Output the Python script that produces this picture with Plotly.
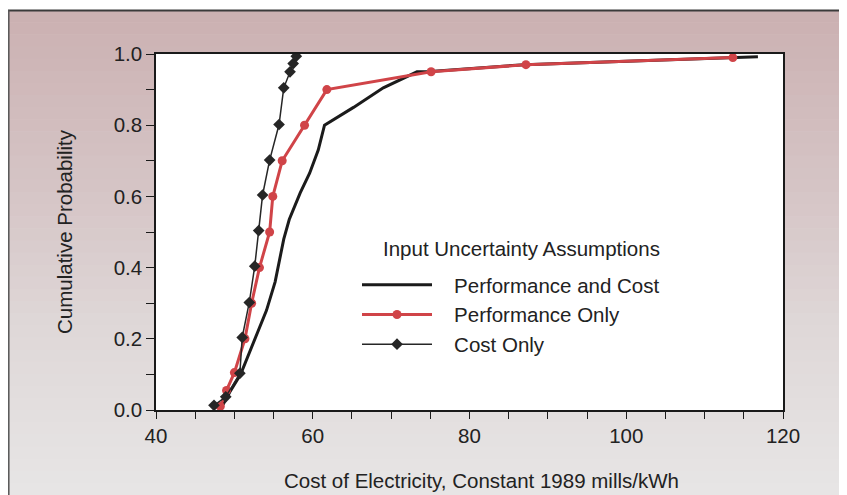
import plotly.graph_objects as go

# ---- data ----
perf_cost_x = [48.3, 49.4, 50.8, 52.4, 54.1, 55.2, 56.3, 57.0, 58.4, 59.6, 60.7, 61.5, 65.2, 69.0, 73.3, 75.0, 87.0, 116.8]
perf_cost_y = [0.005, 0.05, 0.10, 0.187, 0.28, 0.36, 0.48, 0.535, 0.61, 0.665, 0.73, 0.80, 0.85, 0.905, 0.95, 0.951, 0.97, 0.992]

perf_only_x = [48.2, 49.0, 50.0, 51.35, 52.2, 53.2, 54.5, 54.9, 56.1, 58.95, 61.8, 75.1, 87.2, 113.6]
perf_only_y = [0.01, 0.055, 0.105, 0.20, 0.30, 0.40, 0.50, 0.60, 0.70, 0.80, 0.90, 0.95, 0.97, 0.99]

cost_only_x = [47.4, 48.9, 50.7, 51.0, 51.9, 52.6, 53.1, 53.6, 54.5, 55.7, 56.3, 57.1, 57.5, 57.9]
cost_only_y = [0.013, 0.037, 0.103, 0.204, 0.302, 0.404, 0.504, 0.604, 0.702, 0.802, 0.905, 0.95, 0.973, 0.994]

series_names = ["Performance and Cost", "Performance Only", "Cost Only"]
legend_title = "Input Uncertainty Assumptions"
x_title = "Cost of Electricity, Constant 1989 mills/kWh"
y_title = "Cumulative Probability"

# ---- layout geometry (page body has an 8px margin) ----
OFF = 8
W, H = 847 - OFF, 495 - OFF
L, T = 156 - OFF, 54 - OFF
R = W - (783 - OFF)
B = H - (410 - OFF)
PW, PH = W - L - R, H - T - B

def px_x(p):  # screen pixel -> paper
    return (p - OFF - L) / PW

def px_y(p):
    return (H - B - (p - OFF)) / PH

FONT = "Liberation Sans, Arial, sans-serif"
INK = "#222222"
NB = "\u00a0\u00a0\u00a0"
FS = 20.5

fig = go.Figure()
fig.add_trace(go.Scatter(x=perf_cost_x, y=perf_cost_y, mode="lines", name=NB + series_names[0],
                         line=dict(color="#1b1b1b", width=3)))
fig.add_trace(go.Scatter(x=perf_only_x, y=perf_only_y, mode="lines+markers", name=NB + series_names[1],
                         line=dict(color="#d04448", width=3),
                         marker=dict(symbol="circle", size=9, color="#d04448")))
fig.add_trace(go.Scatter(x=cost_only_x, y=cost_only_y, mode="lines+markers", name=NB + series_names[2],
                         line=dict(color="#262626", width=1.5),
                         marker=dict(symbol="diamond", size=9, color="#262626")))

# background: scanned-paper gradient (pink top -> light grey bottom)
shapes = []
def lerp(c1, c2, t):
    return tuple(int(round(a + (b - a) * t)) for a, b in zip(c1, c2))
stops = [(10, (203, 176, 177)), (200, (214, 198, 199)), (330, (223, 216, 216)), (495, (231, 229, 229))]
nb = 40
for i in range(nb):
    y0 = 10 + (495 - 10) * i / nb
    y1 = 10 + (495 - 10) * (i + 1) / nb
    ym = (y0 + y1) / 2
    for (ya, ca), (yb, cb) in zip(stops[:-1], stops[1:]):
        if ya <= ym <= yb:
            c = lerp(ca, cb, (ym - ya) / (yb - ya))
            break
    shapes.append(dict(type="rect", xref="paper", yref="paper", layer="below",
                       x0=px_x(0), x1=px_x(860), y0=px_y(y1 + 0.5), y1=px_y(y0),
                       fillcolor="rgb(%d,%d,%d)" % c, line=dict(width=0)))
shapes.append(dict(type="rect", xref="paper", yref="paper", layer="below",
                   x0=px_x(0), x1=px_x(860), y0=px_y(10), y1=px_y(0),
                   fillcolor="#ffffff", line=dict(width=0)))
shapes.append(dict(type="rect", xref="paper", yref="paper", layer="below",
                   x0=0, x1=1, y0=0, y1=1, fillcolor="white", line=dict(width=0)))
shapes.append(dict(type="line", xref="paper", yref="paper", layer="below",
                   x0=px_x(8), x1=px_x(860), y0=px_y(10.5), y1=px_y(10.5),
                   line=dict(color="#3a3a3a", width=2)))
shapes.append(dict(type="line", xref="paper", yref="paper", layer="below",
                   x0=px_x(8.8), x1=px_x(8.8), y0=px_y(10), y1=px_y(500),
                   line=dict(color="#555555", width=1.5)))

annotations = [
    dict(text=legend_title, xref="paper", yref="paper",
         x=px_x(521), y=px_y(248), xanchor="center", yanchor="middle",
         showarrow=False, font=dict(size=FS, family=FONT, color=INK)),
    dict(text=x_title, xref="paper", yref="paper",
         x=px_x(481), y=px_y(480), xanchor="center", yanchor="middle",
         showarrow=False, font=dict(size=FS, family=FONT, color=INK)),
]

fig.update_layout(
    width=W, height=H,
    margin=dict(l=L, r=R, t=T, b=B),
    paper_bgcolor="#e2dcdc",
    plot_bgcolor="white",
    font=dict(family=FONT, color=INK, size=FS),
    shapes=shapes,
    annotations=annotations,
    showlegend=True,
    legend=dict(
        x=px_x(357), y=px_y(265), xanchor="left", yanchor="top",
        bgcolor="rgba(0,0,0,0)", borderwidth=0,
        itemwidth=70, font=dict(size=FS, family=FONT, color=INK),
        tracegroupgap=0,
    ),
)

fig.update_xaxes(
    range=[40, 120], dtick=20, tick0=40,
    showline=True, linecolor="#1a1a1a", linewidth=1.5, mirror=True,
    ticks="outside", ticklen=7, tickwidth=1.2, tickcolor="#1a1a1a",
    minor=dict(dtick=5, ticks="outside", ticklen=7, tickwidth=1.2, tickcolor="#1a1a1a", showgrid=False),
    showgrid=False, zeroline=False,
    tickfont=dict(size=FS, family=FONT, color=INK),
)
fig.update_yaxes(
    range=[0, 1], dtick=0.2, tick0=0, tickformat=".1f",
    showline=True, linecolor="#1a1a1a", linewidth=1.5, mirror=True,
    ticks="outside", ticklen=8, tickwidth=1.2, tickcolor="#1a1a1a",
    minor=dict(dtick=0.1, ticks="outside", ticklen=8, tickwidth=1.2, tickcolor="#1a1a1a", showgrid=False),
    showgrid=False, zeroline=False,
    tickfont=dict(size=FS, family=FONT, color=INK),
    title=dict(text=y_title, font=dict(size=FS, family=FONT, color=INK), standoff=35),
)

fig.write_html("out.html")
